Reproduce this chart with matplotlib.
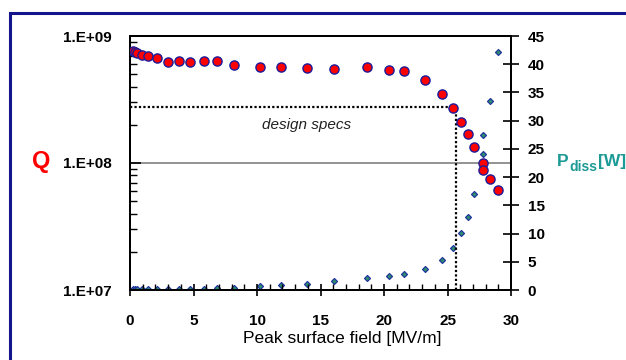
import matplotlib
matplotlib.use("Agg")
import matplotlib.pyplot as plt
from matplotlib.patches import Rectangle
from matplotlib.ticker import LogLocator, MultipleLocator, NullFormatter

plt.rcParams['font.family'] = ['Liberation Sans', 'DejaVu Sans']

# peak surface field [MV/m]
field = [0.26, 0.39, 0.57, 0.92, 1.44, 2.10, 3.02, 3.86, 4.72, 5.83,
         6.83, 8.21, 10.24, 11.89, 13.91, 16.04, 18.69, 20.37, 21.57, 23.23,
         24.54, 25.41, 26.04, 26.64, 27.11, 27.77, 27.77, 28.35, 28.95]
# quality factor Q
q_values = [7.66e8, 7.48e8, 7.31e8, 7.05e8, 6.96e8, 6.71e8, 6.28e8, 6.39e8, 6.24e8, 6.39e8,
            6.32e8, 5.94e8, 5.67e8, 5.67e8, 5.57e8, 5.53e8, 5.67e8, 5.40e8, 5.33e8, 4.53e8,
            3.51e8, 2.71e8, 2.10e8, 1.69e8, 1.34e8, 9.95e7, 8.81e7, 7.44e7, 6.13e7]
# dissipated power [W]
p_diss = [0.10, 0.10, 0.10, 0.10, 0.12, 0.12, 0.12, 0.12, 0.23, 0.23,
          0.41, 0.41, 0.66, 0.83, 1.12, 1.54, 2.07, 2.48, 2.78, 3.77,
          5.37, 7.39, 10.05, 12.99, 17.01, 24.04, 27.41, 33.49, 42.12]

q_ticks = [1e7, 1e8, 1e9]
q_tick_labels = ["1.E+07", "1.E+08", "1.E+09"]
p_ticks = [0, 5, 10, 15, 20, 25, 30, 35, 40, 45]
x_ticks = [0, 5, 10, 15, 20, 25, 30]

# design specs corner
spec_field = 25.67
spec_q = 2.75e8

W, H = 626, 360
fig = plt.figure(figsize=(W / 100, H / 100), dpi=100)
ax = fig.add_axes([130 / W, 1 - 290 / H, 381 / W, 254 / H])
ax2 = ax.twinx()

navy = "#14148c"
teal = "#1b9a96"

# outer frame
fig.patches.append(Rectangle((10 / W, 1 - 375 / H), 640 / W, 362 / H,
                             transform=fig.transFigure, fill=False,
                             edgecolor=navy, linewidth=2.2))

ax.set_yscale("log")
ax.set_xlim(0, 30)
ax.set_ylim(1e7, 1e9)
ax2.set_ylim(0, 45)

ax.axhline(1e8, color="#808080", linewidth=1.2, zorder=1)
ax.plot([0, spec_field, spec_field], [spec_q, spec_q, 1e7], color="black",
        linestyle=(0, (1, 1)), linewidth=1.6, zorder=2)
ax.text(13.9, 2.0e8, "design specs", style="italic", fontsize=11,
        ha="center", va="center", color="#222222")

ax2.plot(field, p_diss, linestyle="none", marker="D", markersize=3.1,
         markerfacecolor="#2e8f6e", markeredgecolor="#1c2aa0",
         markeredgewidth=0.8, zorder=3)
ax.plot(field, q_values, linestyle="none", marker="o", markersize=6.6,
        markerfacecolor="#ff0000", markeredgecolor="#1c1c9a",
        markeredgewidth=1.0, zorder=4)
ax.set_zorder(ax2.get_zorder() + 1)
ax.patch.set_visible(False)

for sp in ax.spines.values():
    sp.set_linewidth(1.4)
for sp in ax2.spines.values():
    sp.set_linewidth(1.4)

ax.set_xticks(x_ticks)
ax.xaxis.set_minor_locator(MultipleLocator(1))
ax.set_yticks(q_ticks)
ax.set_yticklabels(q_tick_labels)
ax.yaxis.set_minor_locator(LogLocator(base=10, subs=range(2, 10)))
ax.yaxis.set_minor_formatter(NullFormatter())
ax2.set_yticks(p_ticks)

ax.tick_params(axis="x", which="major", direction="inout", length=9, width=1.2,
               pad=13, labelsize=11)
ax.tick_params(axis="x", which="minor", direction="in", length=4, width=1.0)
ax.tick_params(axis="y", which="major", direction="in", length=8, width=1.2,
               pad=13.5, labelsize=11)
ax.tick_params(axis="y", which="minor", direction="in", length=5, width=1.0)
ax2.tick_params(axis="y", which="major", direction="inout", length=12, width=1.2,
                pad=6, labelsize=11)
for lab in ax.get_xticklabels() + ax.get_yticklabels() + ax2.get_yticklabels():
    lab.set_fontweight("bold")

ax.set_xlabel("Peak surface field [MV/m]", fontsize=12.5, va="center")
ax.xaxis.set_label_coords(0.558, -0.189)

# axis titles
fig.text(41 / W, 1 - 162 / H, "Q", color="#ff0000", fontsize=17,
         fontweight="bold", ha="center", va="center")
fig.text(557 / W, 1 - 166 / H, "P", color=teal, fontsize=12.5,
         fontweight="bold", ha="left", va="baseline")
fig.text(569 / W, 1 - 171 / H, "diss", color=teal, fontsize=10,
         fontweight="bold", ha="left", va="baseline")
fig.text(598 / W, 1 - 166 / H, "[W]", color=teal, fontsize=12.5,
         fontweight="bold", ha="left", va="baseline")

fig.savefig("out.png", dpi=100)
